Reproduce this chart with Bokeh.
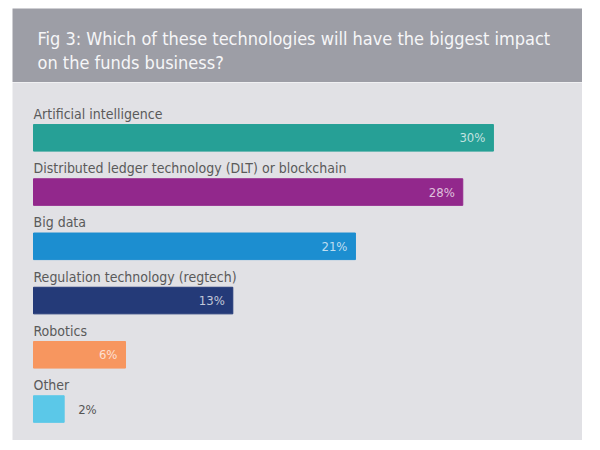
from bokeh.plotting import figure
from bokeh.layouts import column
from bokeh.models import Range1d, ColumnDataSource
from bokeh.core.properties import value
from bokeh.embed import file_html
from bokeh.resources import INLINE

# ---- data ----
title_lines = ["Fig 3: Which of these technologies will have the biggest impact",
               "on the funds business?"]
categories = ["Artificial intelligence",
              "Distributed ledger technology (DLT) or blockchain",
              "Big data",
              "Regulation technology (regtech)",
              "Robotics",
              "Other"]
shares = [30, 28, 21, 13, 6, 2]
value_labels = ["30%", "28%", "21%", "13%", "6%", "2%"]
bar_colors = ["#26a096", "#92288c", "#1c8ed0", "#243a78", "#f7965f", "#5bc8e8"]
label_inside = [True, True, True, True, True, False]

FONT = value("DejaVu Sans Condensed, Lato, sans-serif")
HEADER_BG = "#9d9ea6"
BODY_BG = "#e1e1e5"

# ---- header ----
hdr = figure(width=582, height=82, output_backend="svg", toolbar_location=None,
             x_range=Range1d(0, 570), y_range=Range1d(74, 0),
             min_border_left=12, min_border_right=0, min_border_top=8, min_border_bottom=0,
             border_fill_color="white", background_fill_color=HEADER_BG,
             outline_line_color=None)
hdr.axis.visible = False
hdr.grid.visible = False
hsrc = ColumnDataSource(dict(x=[25, 25], y=[30, 54], t=title_lines))
hdr.text(x="x", y="y", text="t", source=hsrc, text_font=FONT, text_font_size="18px",
         text_color="#f6f6f8", text_baseline="alphabetic", text_align="left")

# ---- body ----
n = len(categories)
rank = list(range(n))
body = figure(width=582, height=358, output_backend="svg", toolbar_location=None,
              x_range=Range1d(-1.37, 35.81), y_range=Range1d(5.58, -1.02),
              min_border_left=12, min_border_right=0, min_border_top=0, min_border_bottom=0,
              border_fill_color="white", background_fill_color=BODY_BG,
              outline_line_color=None)
body.axis.visible = False
body.grid.visible = False

src = ColumnDataSource(dict(
    y=rank, share=shares, cat=categories, lab=value_labels, color=bar_colors,
    lab_color=["#ffffff" if ins else "#555555" for ins in label_inside],
    lab_alpha=[0.72 if ins else 1.0 for ins in label_inside],
    lab_align=["right" if ins else "left" for ins in label_inside],
    lab_off=[-8 if ins else 14 for ins in label_inside],
))
body.hbar(y="y", left=0, right="share", height=0.49, color="color", source=src)

# category labels above bars
body.text(x=0, y="y", text="cat", source=src, y_offset=-24, text_font=FONT,
          text_font_size="14px", text_color="#5a5a5a", text_baseline="alphabetic",
          text_align="left")
# value labels
body.text(x="share", y="y", text="lab", source=src, x_offset="lab_off", text_font=FONT,
          text_font_size="13px", text_color="lab_color", text_alpha="lab_alpha",
          text_baseline="middle", text_align="lab_align")

layout = column(hdr, body, spacing=0)
open("out.html", "w").write(file_html(layout, INLINE))
